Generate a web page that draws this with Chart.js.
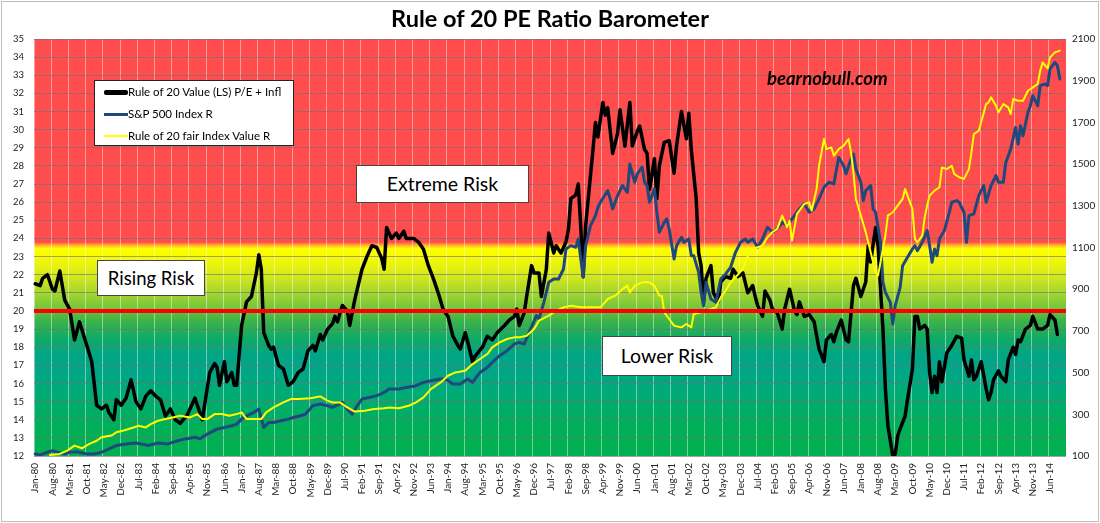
<!DOCTYPE html>
<html>
<head>
<meta charset="utf-8">
<title>Rule of 20 PE Ratio Barometer</title>
<script src="https://cdn.jsdelivr.net/npm/chart.js@4.4.1/dist/chart.umd.min.js"></script>
<style>
    body { margin: 0; background: #fff; font-family: Lato, "Open Sans", sans-serif; }
    #wrap { position: relative; width: 1100px; height: 523px; }
    #frame { position: absolute; left: 1px; top: 1px; width: 1096px; height: 519px; border: 1px solid #bdbdbd; }
    canvas { position: absolute; left: 0; top: 0; }
    .title { position: absolute; left: 0; width: 1100px; top: 4px; text-align: center; font-weight: bold; font-size: 23.5px; color: #000; }
    .box { position: absolute; background: #fff; border: 1px solid #444; color: #000; text-align: center; box-sizing: border-box; }
    .legend { position: absolute; left: 94px; top: 80px; width: 200px; height: 66px; background: #fff; border: 1px solid #222; box-sizing: border-box; }
    .legend .row { position: absolute; left: 0; height: 14px; font-size: 11.5px; line-height: 14px; }
    .legend .swatch { position: absolute; left: 9px; width: 24px; }
    .legend .txt { position: absolute; left: 33px; white-space: nowrap; }
    .site { position: absolute; left: 767px; top: 67px; font-weight: bold; font-style: italic; font-size: 18.5px; color: #000; }
</style>
</head>
<body>
<div id="wrap">
    <canvas id="barometer" width="1100" height="523"></canvas>
    <div id="frame"></div>
    <div class="title">Rule of 20 PE Ratio Barometer</div>
    <div class="legend">
        <div class="row" style="top:4px"><div class="swatch" style="top:5px;height:5px;background:#000;border-radius:2px"></div><div class="txt">Rule of 20 Value (LS) P/E + Infl</div></div>
        <div class="row" style="top:26px"><div class="swatch" style="top:6px;height:3px;background:#1f497d"></div><div class="txt">S&amp;P 500 Index R</div></div>
        <div class="row" style="top:48px"><div class="swatch" style="top:6px;height:2px;background:#ffff00"></div><div class="txt">Rule of 20 fair Index Value R</div></div>
    </div>
    <div class="box" style="left:356px;top:165px;width:173px;height:38px;font-size:19.5px;line-height:36px">Extreme Risk</div>
    <div class="box" style="left:97px;top:260px;width:108px;height:36px;font-size:18.5px;line-height:34px">Rising Risk</div>
    <div class="box" style="left:602px;top:336px;width:130px;height:40px;font-size:19.5px;line-height:38px">Lower Risk</div>
    <div class="site">bearnobull.com</div>
</div>

<script>
// month labels Jan-80 .. Dec-14, one per category
const monthNames = ['Jan', 'Feb', 'Mar', 'Apr', 'May', 'Jun', 'Jul', 'Aug', 'Sep', 'Oct', 'Nov', 'Dec'];
const firstYear = 1980;
const lastYear = 2014;
const labelEvery = 7;
const riskLine = 20;

// Rule of 20 value (left axis), months counted from Jan-80
const r20Mon = [0, 2, 3, 5, 7, 8, 10, 12, 14, 16, 18, 21, 23, 25, 27, 29, 30, 32, 33, 35, 37, 39, 41, 43, 45, 47, 49, 51, 53, 55,
    57, 59, 62, 65, 67, 68, 71, 73, 74, 75, 77, 78, 80, 81, 82, 84, 86, 88, 90, 91, 92, 93, 95, 96, 97, 99, 101, 103, 105, 107,
    109, 111, 113, 114, 116, 117, 119, 121, 122, 123, 125, 127, 128, 130, 133, 135, 137, 139, 141, 142, 143, 145, 147, 148, 150, 151, 154, 156, 158, 160,
    162, 164, 166, 168, 170, 172, 173, 175, 176, 178, 179, 182, 184, 186, 188, 191, 193, 195, 196, 197, 199, 200, 202, 203, 205, 206, 208, 209, 211, 212,
    214, 216, 217, 218, 220, 221, 222, 223, 224, 227, 228, 229, 231, 232, 233, 235, 237, 238, 240, 242, 243, 245, 246, 248, 249, 250, 252, 253, 254, 256,
    258, 260, 261, 263, 265, 266, 267, 269, 270, 271, 272, 273, 275, 276, 278, 279, 281, 283, 284, 286, 288, 290, 292, 293, 294, 296, 297, 299, 300, 302,
    304, 305, 307, 309, 310, 311, 313, 315, 317, 319, 321, 322, 324, 325, 326, 328, 330, 331, 333, 334, 336, 338, 339, 340, 342, 343, 345, 346, 347, 349,
    350, 351, 352, 354, 355, 357, 358, 359, 360, 362, 363, 364, 365, 366, 367, 368, 369, 371, 373, 375, 377, 378, 380, 381, 382, 383, 385, 387, 388, 389,
    390, 392, 393, 395, 396, 398, 399, 400, 401, 403, 405, 406, 408, 410, 412, 413, 415, 416];
const r20Val = [21.5, 21.4, 21.8, 22.0, 21.2, 21.1, 22.2, 20.6, 20.1, 18.4, 19.4, 18.1, 17.2, 14.8, 14.6, 14.8, 14.4, 14.0, 15.1, 14.8, 15.2, 16.2, 15.0, 14.6, 15.3, 15.6, 15.3, 15.1, 14.2, 14.6,
    14.0, 13.8, 14.3, 15.2, 14.4, 14.0, 16.6, 17.1, 16.9, 15.9, 17.2, 16.1, 16.6, 15.9, 15.9, 19.2, 20.5, 20.8, 22.1, 23.1, 22.3, 18.8, 18.1, 17.9, 18.0, 17.0, 16.8, 15.9, 16.1, 16.6,
    16.8, 17.8, 18.1, 17.8, 18.7, 18.4, 19.0, 19.3, 19.7, 19.4, 20.3, 20.0, 19.2, 20.6, 22.3, 23.0, 23.6, 23.5, 22.9, 22.3, 24.6, 24.0, 24.3, 24.0, 24.4, 24.0, 24.0, 23.8, 23.4, 22.5,
    21.8, 21.0, 20.1, 19.7, 18.6, 18.1, 17.9, 18.8, 18.3, 17.2, 17.5, 18.0, 18.6, 18.4, 18.8, 19.2, 19.5, 19.7, 20.1, 19.2, 19.9, 20.8, 22.5, 22.1, 22.1, 20.8, 22.3, 24.3, 23.2, 23.6,
    23.2, 23.8, 24.5, 26.2, 26.4, 27.0, 24.7, 21.9, 24.7, 28.9, 30.4, 29.6, 31.5, 30.8, 31.2, 28.7, 29.8, 31.1, 29.1, 31.5, 29.1, 29.9, 30.2, 28.9, 28.7, 26.7, 28.4, 26.2, 28.0, 29.3,
    29.4, 27.6, 29.1, 31.0, 29.5, 30.9, 28.9, 26.2, 23.2, 22.5, 20.5, 21.8, 22.5, 21.0, 20.5, 21.6, 21.9, 21.8, 22.3, 21.9, 22.1, 21.0, 21.4, 20.8, 20.3, 19.7, 21.1, 20.6, 20.1, 19.9,
    19.0, 20.1, 21.2, 20.0, 19.8, 20.5, 19.7, 19.8, 19.4, 17.9, 17.2, 18.4, 18.7, 18.3, 18.8, 19.5, 18.4, 18.3, 21.4, 21.8, 20.8, 21.6, 23.6, 22.7, 24.6, 23.6, 19.0, 15.7, 13.7, 12.0,
    12.1, 13.1, 13.5, 14.2, 15.1, 16.8, 19.7, 19.7, 19.0, 19.2, 19.0, 16.6, 15.5, 16.4, 15.5, 17.2, 16.1, 17.7, 18.1, 18.6, 18.5, 17.3, 16.4, 17.3, 16.2, 16.4, 17.2, 15.7, 15.1, 15.5,
    16.2, 16.7, 16.4, 16.1, 17.3, 18.0, 17.6, 18.4, 18.3, 19.0, 19.2, 19.7, 19.0, 19.0, 19.2, 19.8, 19.5, 18.7];

// S&P 500 index (right axis)
const spxMon = [0, 2, 5, 7, 9, 12, 14, 17, 21, 24, 27, 30, 33, 37, 41, 43, 46, 50, 54, 58, 61, 65, 67, 70, 74, 77, 80, 82, 84, 86,
    89, 91, 93, 95, 97, 100, 103, 105, 108, 110, 113, 116, 119, 121, 125, 127, 129, 131, 133, 136, 139, 142, 144, 148, 151, 155, 158, 161, 165, 167,
    170, 173, 176, 178, 181, 184, 186, 189, 192, 195, 197, 199, 201, 204, 205, 207, 209, 211, 213, 215, 216, 218, 220, 221, 223, 224, 226, 228, 229, 230,
    233, 234, 235, 237, 239, 241, 242, 244, 245, 247, 248, 249, 250, 252, 253, 254, 256, 257, 258, 260, 261, 263, 264, 266, 267, 268, 270, 271, 272, 273,
    275, 277, 279, 281, 283, 285, 287, 289, 290, 292, 294, 296, 298, 300, 302, 304, 306, 308, 310, 311, 313, 315, 317, 319, 321, 323, 325, 326, 327, 329,
    330, 332, 333, 334, 336, 337, 338, 340, 341, 342, 344, 345, 346, 348, 349, 350, 352, 353, 355, 357, 358, 359, 361, 363, 364, 365, 366, 367, 368, 370,
    372, 373, 375, 376, 378, 379, 380, 382, 384, 386, 387, 389, 391, 392, 394, 395, 397, 399, 400, 401, 402, 404, 405, 406, 408, 409, 411, 412, 413, 415,
    416, 417];
const spxVal = [110, 105, 118, 126, 118, 110, 118, 120, 110, 110, 118, 134, 150, 158, 162, 158, 150, 162, 158, 173, 182, 190, 182, 205, 229, 237, 245, 253, 277, 293,
    309, 325, 237, 261, 261, 269, 277, 285, 293, 301, 341, 349, 341, 333, 357, 325, 301, 341, 373, 381, 389, 405, 421, 421, 429, 437, 453, 461, 469, 469,
    445, 445, 469, 453, 501, 525, 549, 581, 605, 637, 645, 637, 693, 773, 757, 837, 933, 949, 949, 997, 1093, 1109, 1101, 1141, 957, 1109, 1205, 1253, 1293, 1317,
    1373, 1333, 1285, 1349, 1397, 1365, 1500, 1413, 1453, 1485, 1413, 1397, 1317, 1381, 1269, 1173, 1221, 1237, 1189, 1045, 1109, 1149, 1125, 1141, 1061, 1061, 981, 885, 821, 933,
    853, 837, 949, 973, 1005, 1077, 1125, 1141, 1125, 1141, 1101, 1141, 1197, 1173, 1189, 1221, 1205, 1237, 1269, 1285, 1309, 1269, 1285, 1333, 1389, 1413, 1405, 1468, 1532, 1492,
    1453, 1524, 1548, 1476, 1413, 1325, 1373, 1397, 1285, 1269, 1125, 933, 885, 837, 733, 821, 909, 1013, 1053, 1093, 1109, 1085, 1125, 1181, 1109, 1029, 1093, 1061, 1141, 1181,
    1269, 1317, 1325, 1317, 1269, 1125, 1253, 1261, 1349, 1397, 1317, 1397, 1445, 1413, 1413, 1508, 1572, 1676, 1596, 1684, 1636, 1748, 1780, 1828, 1780, 1876, 1884, 1876, 1956, 1988,
    1972, 1908];

// Rule of 20 fair index value (right axis)
const fairMon = [6, 10, 13, 16, 19, 22, 25, 27, 31, 33, 36, 40, 42, 45, 47, 50, 53, 56, 59, 63, 66, 68, 70, 73, 76, 79, 82, 84, 86, 89,
    92, 94, 97, 101, 104, 107, 112, 116, 119, 121, 124, 127, 130, 134, 138, 142, 144, 148, 152, 155, 158, 161, 165, 168, 171, 175, 178, 181, 184, 186,
    189, 192, 195, 197, 200, 203, 205, 209, 212, 215, 218, 222, 226, 230, 233, 236, 239, 241, 242, 244, 247, 250, 252, 254, 255, 256, 258, 260, 263, 265,
    267, 268, 271, 273, 275, 277, 279, 281, 283, 285, 288, 290, 292, 294, 296, 298, 300, 302, 304, 306, 307, 308, 310, 313, 315, 316, 318, 319, 321, 322,
    324, 325, 327, 329, 331, 332, 333, 334, 336, 338, 340, 342, 343, 344, 346, 347, 349, 351, 353, 354, 355, 357, 358, 359, 361, 362, 363, 364, 366, 368,
    369, 371, 373, 374, 376, 378, 380, 381, 382, 384, 387, 388, 389, 391, 392, 394, 396, 397, 398, 400, 402, 404, 406, 408, 409, 410, 412, 413, 415, 417];
const fairVal = [105, 110, 126, 150, 137, 158, 173, 190, 198, 214, 222, 237, 245, 237, 253, 269, 277, 285, 293, 285, 301, 277, 277, 301, 301, 293, 301, 309, 277, 277,
    277, 309, 333, 357, 373, 373, 377, 386, 365, 357, 357, 333, 313, 317, 325, 329, 333, 329, 341, 357, 381, 421, 453, 485, 501, 509, 541, 565, 589, 621,
    645, 661, 669, 669, 677, 709, 749, 773, 797, 813, 821, 813, 813, 813, 853, 869, 901, 917, 885, 917, 933, 933, 917, 869, 869, 789, 757, 725, 717, 733,
    717, 781, 789, 797, 805, 813, 861, 893, 933, 957, 997, 1061, 1093, 1101, 1109, 1149, 1173, 1189, 1253, 1197, 1229, 1133, 1261, 1309, 1317, 1277, 1381, 1492, 1620, 1572,
    1580, 1540, 1572, 1588, 1620, 1556, 1460, 1333, 1253, 1173, 1077, 981, 965, 1029, 1157, 1253, 1269, 1301, 1333, 1381, 1349, 1285, 1141, 1125, 1157, 1245, 1301, 1349, 1373, 1389,
    1484, 1476, 1492, 1453, 1437, 1429, 1476, 1556, 1644, 1660, 1788, 1796, 1820, 1780, 1748, 1788, 1772, 1740, 1812, 1804, 1804, 1852, 1868, 1884, 1948, 1988, 1959, 2012, 2036, 2044];

const labels = [];
for (let yr = firstYear; yr <= lastYear; yr++) {
    monthNames.forEach(mn => labels.push(mn + '-' + String(yr).slice(2)));
}

function toPoints(mons, vals) {
    return mons.map((m, i) => ({ x: labels[m], y: vals[i] }));
}

// colour bands of the barometer, keyed by left-axis value
const bandStops = [
    [35, 'rgb(255,76,76)'], [23.8, 'rgb(255,76,76)'], [23.62, 'rgb(255,180,40)'], [23.45, 'rgb(255,255,0)'],
    [23.0, 'rgb(248,250,5)'], [22.0, 'rgb(214,234,26)'], [21.0, 'rgb(164,214,46)'], [20.2, 'rgb(118,198,58)'],
    [19.5, 'rgb(62,180,72)'], [18.5, 'rgb(16,170,102)'], [17.5, 'rgb(0,165,135)'], [16.5, 'rgb(0,167,134)'],
    [15.0, 'rgb(0,172,110)'], [13.5, 'rgb(0,176,86)'], [12, 'rgb(0,176,80)']
];

const backgroundBands = {
    id: 'backgroundBands',
    beforeDraw(chart) {
        const { ctx, chartArea, scales } = chart;
        const yTop = scales.y.getPixelForValue(scales.y.max);
        const yBot = scales.y.getPixelForValue(scales.y.min);
        const grad = ctx.createLinearGradient(0, yTop, 0, yBot);
        bandStops.forEach(([v, c]) => {
            const p = (scales.y.getPixelForValue(v) - yTop) / (yBot - yTop);
            grad.addColorStop(Math.min(1, Math.max(0, p)), c);
        });
        ctx.save();
        ctx.fillStyle = grad;
        ctx.fillRect(chartArea.left, chartArea.top, chartArea.right - chartArea.left, chartArea.bottom - chartArea.top);
        ctx.restore();
    }
};

// thick red line at the P/E = 20 level
const riskLevel = {
    id: 'riskLevel',
    afterDatasetsDraw(chart) {
        const { ctx, chartArea, scales } = chart;
        const y = scales.y.getPixelForValue(riskLine);
        ctx.save();
        ctx.strokeStyle = '#ff0000';
        ctx.lineWidth = 4;
        ctx.beginPath();
        ctx.moveTo(chartArea.left, y);
        ctx.lineTo(chartArea.right, y);
        ctx.stroke();
        ctx.restore();
    }
};

const ctx = document.getElementById('barometer').getContext('2d');
new Chart(ctx, {
    type: 'line',
    data: {
        labels: labels,
        datasets: [{
            label: 'Rule of 20 fair Index Value R',
            data: toPoints(fairMon, fairVal),
            yAxisID: 'y1',
            borderColor: '#ffff00',
            borderWidth: 2,
            order: 0
        }, {
            label: 'S&P 500 Index R',
            data: toPoints(spxMon, spxVal),
            yAxisID: 'y1',
            borderColor: '#1f497d',
            borderWidth: 3,
            order: 1
        }, {
            label: 'Rule of 20 Value (LS) P/E + Infl',
            data: toPoints(r20Mon, r20Val),
            yAxisID: 'y',
            borderColor: '#000000',
            borderWidth: 3.5,
            order: 2
        }]
    },
    options: {
        responsive: false,
        animation: false,
        layout: { padding: { top: 39, left: 0, right: 0, bottom: 0 } },
        elements: {
            point: { radius: 0 },
            line: { tension: 0, borderJoinStyle: 'round', borderCapStyle: 'round' }
        },
        plugins: {
            legend: { display: false },
            tooltip: { enabled: false }
        },
        scales: {
            x: {
                type: 'category',
                offset: true,
                border: { display: false },
                grid: {
                    offset: true,
                    drawTicks: false,
                    color: c => (c.index % labelEvery === 0 ? 'rgba(255,255,255,0.45)' : 'rgba(0,0,0,0)')
                },
                ticks: {
                    autoSkip: false,
                    minRotation: 90,
                    maxRotation: 90,
                    padding: 7,
                    color: '#222',
                    font: { family: 'Lato', size: 10 },
                    callback: function (val, i) {
                        return i % labelEvery === 0 ? this.getLabelForValue(val) : '';
                    }
                },
                afterFit: s => { s.height = 67; }
            },
            y: {
                position: 'left',
                min: 12,
                max: 35,
                border: { display: false },
                grid: { color: 'rgba(115,115,115,0.65)', drawTicks: false },
                ticks: { stepSize: 1, padding: 10, color: '#222', font: { family: 'Lato', size: 9.5 } },
                afterFit: s => { s.width = 34; }
            },
            y1: {
                position: 'right',
                min: 100,
                max: 2100,
                border: { display: false },
                grid: { drawOnChartArea: false, drawTicks: false, tickLength: 0, color: 'rgba(0,0,0,0)' },
                ticks: {
                    stepSize: 200,
                    padding: 6,
                    color: '#222',
                    font: { family: 'Lato', size: 10 },
                    callback: v => String(v)
                },
                afterFit: s => { s.width = 34; }
            }
        }
    },
    plugins: [backgroundBands, riskLevel]
});
</script>
</body>
</html>
